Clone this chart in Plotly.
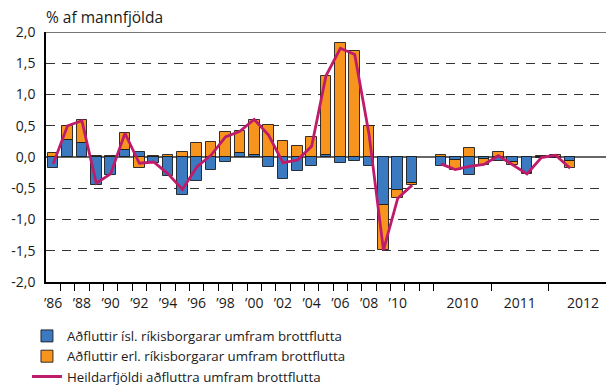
import plotly.graph_objects as go

# Annual net migration 1986-2011, % of population
years = list(range(1986, 2012))
isl_annual = [-0.18, 0.28, 0.23, -0.45, -0.29, 0.11, 0.08, -0.10, -0.31, -0.60,
              -0.38, -0.21, -0.08, 0.06, 0.03, -0.16, -0.35, -0.22, -0.15, 0.04,
              -0.09, -0.06, -0.14, -0.76, -0.53, -0.42]
erl_annual = [0.07, 0.22, 0.36, 0.02, 0.02, 0.28, -0.18, 0.02, 0.04, 0.08,
              0.22, 0.24, 0.40, 0.35, 0.57, 0.51, 0.26, 0.17, 0.32, 1.26,
              1.83, 1.70, 0.50, -0.73, -0.13, -0.03]
total_annual = [-0.11, 0.50, 0.58, -0.42, -0.27, 0.38, -0.10, -0.08, -0.27, -0.52,
                -0.16, 0.03, 0.32, 0.41, 0.60, 0.35, -0.09, -0.05, 0.17, 1.30,
                1.74, 1.64, 0.36, -1.49, -0.66, -0.45]

# Quarterly net migration 2010 Q1 - 2012 Q2, % of population
quarters = ["2010F1", "2010F2", "2010F3", "2010F4",
            "2011F1", "2011F2", "2011F3", "2011F4",
            "2012F1", "2012F2"]
isl_q = [-0.14, -0.05, -0.29, -0.03, -0.06, -0.08, -0.25, -0.02, -0.01, -0.07]
erl_q = [0.03, -0.15, 0.14, -0.09, 0.08, -0.05, -0.02, 0.01, 0.04, -0.11]
total_q = [-0.11, -0.20, -0.15, -0.12, 0.02, -0.13, -0.27, -0.01, 0.03, -0.18]

# Tick labels
annual_labels = ["’" + str(y)[2:] for y in years[::2]][:13]
year_labels = ["2010", "2011", "2012"]

# Slot layout: annual bars, one empty slot, then quarterly bars (3 years x 4)
n_annual = len(years)
q_start = n_annual + 1
n_slots = q_start + 12
x_annual = list(range(n_annual))
x_q = [q_start + i for i in range(len(quarters))]

x_all = x_annual + x_q
isl_all = isl_annual + isl_q
erl_all = erl_annual + erl_q
x_line = x_annual + [n_annual] + x_q
total_line = total_annual + [None] + total_q

BLUE = "#3B7AC0"
ORANGE = "#F7941D"
MAGENTA = "#BF1B6B"
FONT = "Open Sans"
TXT = "#1a1a1a"

fig = go.Figure()
bar_line = dict(color="rgba(20,20,20,0.85)", width=1)
fig.add_trace(go.Bar(x=x_all, y=isl_all, width=0.74, marker=dict(color=BLUE, line=bar_line),
                     name="Aðfluttir ísl. ríkisborgarar umfram brottflutta"))
fig.add_trace(go.Bar(x=x_all, y=erl_all, width=0.74, marker=dict(color=ORANGE, line=bar_line),
                     name="Aðfluttir erl. ríkisborgarar umfram brottflutta"))
fig.add_trace(go.Scatter(x=x_line, y=total_line, mode="lines", connectgaps=False,
                         line=dict(color=MAGENTA, width=2.8),
                         name="Heildarfjöldi aðfluttra umfram brottflutta"))

# Label positions and tick (boundary) positions on the x axis
label_pos = [2 * i for i in range(len(annual_labels))] + \
            [q_start + 1.5, q_start + 5.5, q_start + 9.9]
label_text = annual_labels + year_labels
boundaries = [i + 0.5 for i in range(n_annual + 1)] + [q_start + 3.5, q_start + 7.5]

fig.update_layout(
    width=606, height=385,
    margin=dict(l=46, r=0, t=32, b=103, autoexpand=False),
    paper_bgcolor="white", plot_bgcolor="white",
    barmode="relative", bargap=0,
    font=dict(family=FONT, size=14, color=TXT),
    title=dict(text="% af mannfjölda", x=46 / 606, xref="container", xanchor="left",
               y=1 - 18 / 385, yref="container", yanchor="middle",
               font=dict(family=FONT, size=15.5, color=TXT)),
    showlegend=True,
    legend=dict(x=-0.034, xanchor="left", y=-0.155, yanchor="top", orientation="v",
                font=dict(family=FONT, size=13.3, color=TXT),
                bgcolor="rgba(0,0,0,0)", traceorder="normal", tracegroupgap=0),
    xaxis=dict(range=[-0.5, n_slots - 0.5], showgrid=False, zeroline=False,
               showline=True, linecolor="black", linewidth=1.5,
               tickmode="array", tickvals=label_pos, ticktext=label_text,
               ticks="outside", ticklen=7, tickcolor="rgba(0,0,0,0)",
               tickfont=dict(family=FONT, size=14, color=TXT),
               minor=dict(tickmode="array", tickvals=boundaries, ticks="outside",
                          ticklen=7, tickwidth=1.2, tickcolor="black", showgrid=False)),
    yaxis=dict(range=[-2, 2], tickmode="array",
               tickvals=[-2, -1.5, -1, -0.5, 0, 0.5, 1, 1.5, 2],
               ticktext=["-2,0", "-1,5", "-1,0", "-0,5", "0,0", "0,5", "1,0", "1,5", "2,0"],
               showgrid=True, gridcolor="#333333", gridwidth=1, griddash="9px,7px",
               zeroline=True, zerolinecolor="#666666", zerolinewidth=1.5,
               showline=True, linecolor="black", linewidth=1.5,
               ticks="", ticklabelstandoff=6,
               tickfont=dict(family=FONT, size=14, color=TXT)),
)

# Gray frame line along the top of the plot area
fig.add_shape(type="line", xref="paper", yref="y", x0=0, x1=1, y0=2, y1=2,
              line=dict(color="#777777", width=2), layer="above")

fig.write_html("out.html")
